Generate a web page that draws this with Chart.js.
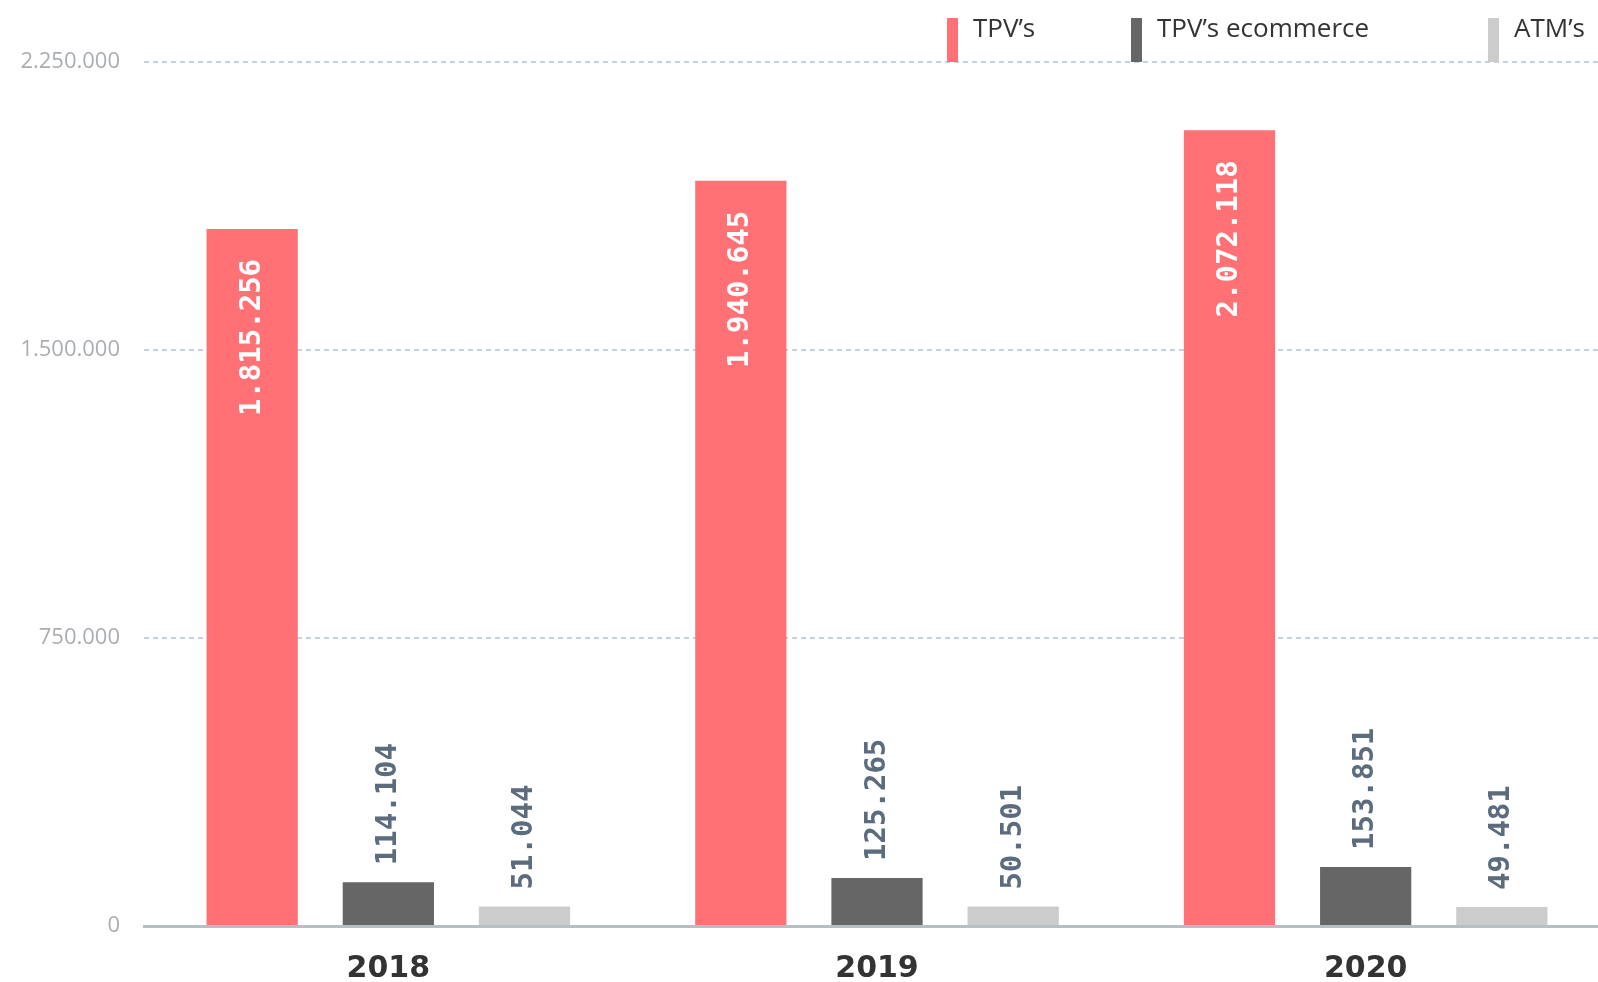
<!DOCTYPE html>
<html>
<head>
<meta charset="utf-8">
<script src="https://cdn.jsdelivr.net/npm/chart.js@4.4.1/dist/chart.umd.min.js"></script>
<style>
    html, body { margin: 0; padding: 0; background: #fff; overflow: hidden; }
    #wrap { width: 1610px; height: 982px; }
</style>
</head>
<body>
<div id="wrap"><canvas id="myChart" width="1610" height="982"></canvas></div>
<script>
const years = ["2018", "2019", "2020"];
const tpvs = [1815256, 1940645, 2072118];
const tpvsEcommerce = [114104, 125265, 153851];
const atms = [51044, 50501, 49481];
const seriesNames = ["TPV’s", "TPV’s ecommerce", "ATM’s"];
const seriesColors = ["#ff7174", "#666666", "#cccccc"];
const yMax = 2250000;
const yStep = 750000;

// legend marker positions (layout only)
const legendX = [947, 1131, 1488];

function formatNumber(n) {
    return String(n).replace(/\B(?=(\d{3})+(?!\d))/g, ".");
}

const valueLabels = {
    id: "valueLabels",
    afterDatasetsDraw(chart) {
        const ctx = chart.ctx;
        ctx.save();
        ctx.font = "bold 29px 'DejaVu Sans Mono'";
        ctx.textBaseline = "middle";
        chart.data.datasets.forEach((ds, i) => {
            const meta = chart.getDatasetMeta(i);
            meta.data.forEach((bar, j) => {
                ctx.save();
                ctx.translate(bar.x, bar.y);
                ctx.rotate(-Math.PI / 2);
                if (i === 0) {
                    // big bars: label inside, near the top
                    ctx.fillStyle = "#ffffff";
                    ctx.textAlign = "right";
                    ctx.fillText(formatNumber(ds.data[j]), -30, 0);
                } else {
                    ctx.fillStyle = "#5a6c7e";
                    ctx.textAlign = "left";
                    ctx.fillText(formatNumber(ds.data[j]), 17, 0);
                }
                ctx.restore();
            });
        });
        ctx.restore();
    }
};

const topLegend = {
    id: "topLegend",
    afterDraw(chart) {
        const ctx = chart.ctx;
        const bottom = chart.chartArea.top;
        ctx.save();
        ctx.font = "26px 'Open Sans'";
        ctx.textBaseline = "alphabetic";
        ctx.textAlign = "left";
        seriesNames.forEach((name, i) => {
            ctx.fillStyle = seriesColors[i];
            ctx.fillRect(legendX[i], 18, 11, bottom - 18);
            ctx.fillStyle = "#333333";
            ctx.fillText(name, legendX[i] + 26, 37);
        });
        ctx.restore();
    }
};

const ctx = document.getElementById("myChart");

new Chart(ctx, {
    type: "bar",
    data: {
        labels: years,
        datasets: [
            { label: seriesNames[0], data: tpvs, backgroundColor: seriesColors[0] },
            { label: seriesNames[1], data: tpvsEcommerce, backgroundColor: seriesColors[1] },
            { label: seriesNames[2], data: atms, backgroundColor: seriesColors[2] },
        ],
    },
    options: {
        responsive: false,
        animation: false,
        devicePixelRatio: 1,
        layout: { padding: { top: 62, right: 0, left: 0, bottom: 0 } },
        datasets: {
            bar: { categoryPercentage: 0.836, barPercentage: 0.67 },
        },
        plugins: {
            legend: { display: false },
            tooltip: { enabled: false },
        },
        scales: {
            x: {
                grid: { display: false, drawTicks: false },
                border: { display: true, color: "#b6bfc3", width: 3, z: 1 },
                ticks: {
                    color: "#333333",
                    padding: 25,
                    font: { family: "'DejaVu Sans'", size: 30, weight: "bold" },
                },
                afterFit(scale) { scale.height = 56; },
            },
            y: {
                min: 0,
                max: yMax,
                grid: { color: "#c5d1dd", lineWidth: 2, drawTicks: false },
                border: { display: false, dash: [5, 4] },
                ticks: {
                    stepSize: yStep,
                    color: "#a9aeb2",
                    padding: 24,
                    font: { family: "'Open Sans'", size: 22 },
                    callback: (v) => formatNumber(v),
                },
                afterFit(scale) { scale.width = 144; },
            },
        },
    },
    plugins: [valueLabels, topLegend],
});
</script>
</body>
</html>
